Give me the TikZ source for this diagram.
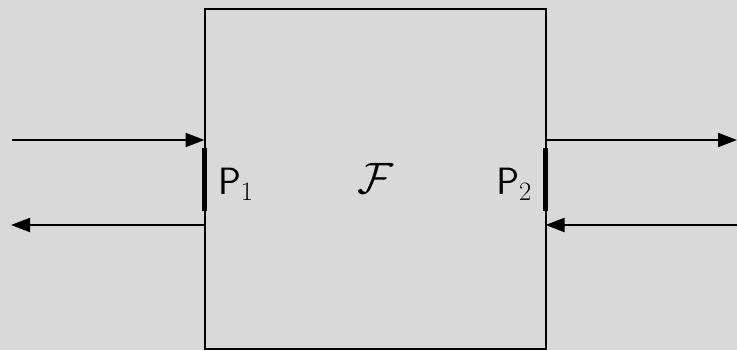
\RequirePackage{fix-cm}
\documentclass[tikz,border=0pt]{standalone}
\usetikzlibrary{arrows.meta}
\definecolor{bg}{RGB}{217,217,217}
\begin{document}
\begin{tikzpicture}[x=1pt,y=-1pt,
  arr/.style={line width=2pt,-{Triangle[length=19pt,width=14pt]}},
  port/.style={line width=4.5pt},
  lbl/.style={inner sep=0pt,font=\fontsize{38}{40}\selectfont}]
\fill[bg] (0,0) rectangle (737,350);
\useasboundingbox (0,0) rectangle (737,350);
\node[draw,line width=2pt,fill=bg,minimum width=341pt,minimum height=340pt,inner sep=0pt,outer sep=0pt,anchor=north west] (F) at (204.5,9) {};
\coordinate (a1) at (12,140);
\coordinate (b1) at (204.5,140);
\coordinate (a2) at (204.5,225);
\coordinate (b2) at (11,225);
\coordinate (c1) at (545.5,140);
\coordinate (d1) at (737,140);
\coordinate (c2) at (737,225);
\coordinate (d2) at (545.5,225);
\coordinate (p1t) at (204.5,148);
\coordinate (p1b) at (204.5,211);
\coordinate (p2t) at (545.5,148);
\coordinate (p2b) at (545.5,211);
\draw[arr] (a1) -- (b1);
\draw[arr] (a2) -- (b2);
\draw[arr] (c1) -- (d1);
\draw[arr] (c2) -- (d2);
\draw[port] (p1t) -- (p1b);
\draw[port] (p2t) -- (p2b);
\node[lbl,anchor=base west] (P1) at (218,195) {$\mathsf{P}_1$};
\node[lbl,anchor=base east] (P2) at (532,195) {$\mathsf{P}_2$};
\node[lbl,anchor=base,font=\fontsize{44}{46}\selectfont] (FF) at (375,194) {$\mathcal{F}$};
\end{tikzpicture}
\end{document}
